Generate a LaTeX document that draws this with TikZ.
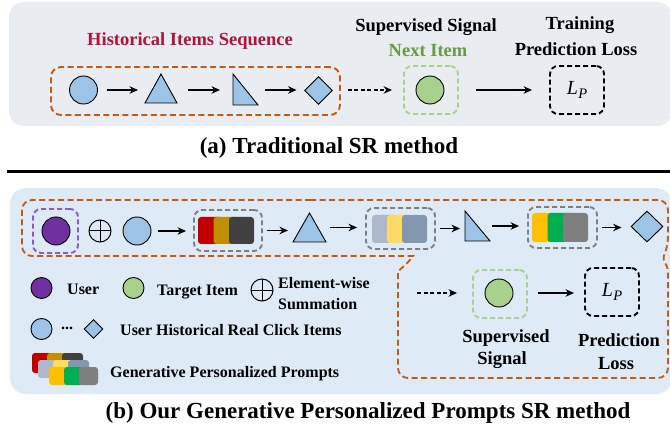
\documentclass[tikz,border=0pt]{standalone}
\usepackage{fontspec}
\setmainfont{Liberation Serif}
\usetikzlibrary{arrows.meta,shapes.geometric}

\definecolor{bgA}{HTML}{E9ECF1}
\definecolor{bgB}{HTML}{DEEAF6}
\definecolor{orangeC}{HTML}{C55A11}
\definecolor{itemblue}{HTML}{9DC3E6}
\definecolor{tgreen}{HTML}{A9D18E}
\definecolor{upurple}{HTML}{7030A0}
\definecolor{dpurple}{HTML}{8B5CC4}
\definecolor{dgray}{HTML}{7F7F7F}
\definecolor{histred}{HTML}{B3123A}
\definecolor{nextgreen}{HTML}{6A9A45}
\definecolor{pRed}{HTML}{C00000}
\definecolor{pGold}{HTML}{BF9000}
\definecolor{pDark}{HTML}{404040}
\definecolor{pSlate}{HTML}{ADB9CA}
\definecolor{pYel}{HTML}{FFD966}
\definecolor{pBlueGray}{HTML}{8497B0}
\definecolor{pAmber}{HTML}{FFC000}
\definecolor{pGreen}{HTML}{00B050}
\definecolor{pGray}{HTML}{7F7F7F}

\newcommand{\gprow}[8]{%
  \fill[#6, rounded corners=3pt] (#1,#2) rectangle ++(#3,#4);
  \fill[#7, rounded corners=3pt] ({#1+#5},#2) rectangle ++(#3,#4);
  \fill[#8, rounded corners=3pt] ({#1+2*#5},#2) rectangle ++(#3,#4);}
\newcommand{\lossLP}{{\fontsize{20}{22}\selectfont\itshape L\kern0.5pt\raisebox{-4.5pt}{\fontsize{14.5}{15}\selectfont P}}}

\begin{document}
\begin{tikzpicture}[x=1pt,y=-1pt,
  lbl/.style={font=\fontsize{18.5}{21}\selectfont\bfseries, inner sep=0, anchor=base},
  leg/.style={font=\fontsize{16}{19}\selectfont\bfseries, inner sep=0, anchor=base west},
  ttl/.style={font=\fontsize{23}{26}\selectfont\bfseries, inner sep=0, anchor=base},
  itemC/.style={circle, draw=black, line width=0.9pt, fill=itemblue, minimum size=28pt, inner sep=0},
  dia/.style={diamond, draw=black, line width=0.9pt, fill=itemblue, inner sep=0},
  bbox/.style={inner sep=0, outer sep=0},
  shp/.style={draw=black, line width=0.9pt, fill=itemblue, line join=miter},
  arr/.style={-{Stealth[length=8.5pt,width=7.5pt]}, line width=1.3pt},
  darr/.style={arr, dash pattern=on 4pt off 2.5pt},
  odash/.style={draw=orangeC, line width=1.8pt, dash pattern=on 6pt off 3.5pt},
  box/.style={inner sep=0, rounded corners=8pt, line width=1.9pt, dash pattern=on 5pt off 3pt},
  oplus/.style={circle, draw=black, line width=1pt, inner sep=0,
    path picture={\draw[line width=1pt] (path picture bounding box.north) -- (path picture bounding box.south)
      (path picture bounding box.west) -- (path picture bounding box.east);}},
]
\useasboundingbox (0,0) rectangle (670,433);

% ---------------- (a) ----------------
\fill[bgA, rounded corners=15pt] (9,2) rectangle (672,126);

\node[lbl, text=histred] (hist) at (190,46) {Historical Items Sequence};
\node[box, draw=orangeC, dash pattern=on 6pt off 3.5pt, minimum width=289pt, minimum height=48pt, rounded corners=10pt] (aseq) at (195.5,91) {};

\node[itemC] (a1) at (83.5,90) {};
\node[bbox, minimum width=32pt, minimum height=29pt] (a2) at (161,88.5) {};
\draw[shp] (a2.south west) -- (a2.north) -- (a2.south east) -- cycle;
\node[bbox, minimum width=25pt, minimum height=31pt] (a3) at (245.5,89.5) {};
\draw[shp] (a3.north west) -- (a3.south west) -- (a3.south east) -- cycle;
\node[dia, minimum width=28pt, minimum height=28pt] (a4) at (318.5,90.5) {};

\draw[arr, shorten <=9.5pt, shorten >=7pt] (a1.east) -- (a2.west |- a1.east);
\draw[arr, shorten <=11pt, shorten >=13pt] (a2.east |- a1.east) -- (a3.west |- a1.east);
\draw[arr, shorten <=7pt, shorten >=7.5pt] (a3.east |- a1.east) -- (a4.west |- a1.east);

\node[lbl] (sup) at (426,32) {Supervised Signal};
\node[lbl, text=nextgreen] (nxt) at (428,57) {Next Item};
\node[box, draw=tgreen, minimum width=54pt, minimum height=48pt] (anbox) at (431,90) {};
\node[itemC, fill=tgreen] (an) at (430,90) {};
\draw[darr, shorten <=7pt, shorten >=11pt] (aseq.east |- a1.east) -- (anbox.west |- a1.east);

\node[lbl] (trn) at (580,29.5) {Training};
\node[lbl] (ploss) at (576,56) {Prediction Loss};
\node[box, draw=black, minimum width=54pt, minimum height=48pt] (aloss) at (577,90) {\lossLP};
\draw[arr, shorten <=17pt, shorten >=17pt] (anbox.east |- a1.east) -- (aloss.west |- a1.east);

\node[ttl] (ta) at (329,154) {(a) Traditional SR method};

% rule
\coordinate (r1) at (7,171.5);
\coordinate (r2) at (672,171.5);
\draw[line width=2.6pt] (r1) -- (r2);

% ---------------- (b) ----------------
\fill[bgB, rounded corners=16pt] (10,188) rectangle (672,394);

% orange outline
\draw[odash, rounded corners=10pt] (300,200) -- (668,200) -- (668,247)
  [rounded corners=2pt] -- (663,258) -- (668,269)
  [rounded corners=10pt] -- (668,378) -- (398,378) -- (398,282)
  [sharp corners] to[out=90,in=235] (413,256)
  [rounded corners=10pt] -- (22,256) -- (22,200) -- cycle;

% top row
\node[box, draw=dpurple, minimum width=45pt, minimum height=44pt] (ubox) at (55.5,231) {};
\node[itemC, fill=upurple] (bu) at (56,231) {};
\node[oplus, minimum size=22pt] (bplus) at (100,231) {};
\node[itemC] (b1) at (137,231) {};

\node[box, draw=dgray, minimum width=68pt, minimum height=41pt] (g1) at (228,230.5) {};
\gprow{198}{217}{25}{27}{15.5}{pRed}{pGold}{pDark}
\node[bbox, minimum width=33pt, minimum height=29pt] (b2) at (309.5,227.5) {};
\draw[shp] (b2.south west) -- (b2.north) -- (b2.south east) -- cycle;

\node[box, draw=dgray, minimum width=69pt, minimum height=41pt] (g2) at (400.5,228.5) {};
\gprow{372}{215}{25}{28}{15}{pSlate}{pYel}{pBlueGray}
\node[bbox, minimum width=25pt, minimum height=30pt] (b3) at (477.5,226) {};
\draw[shp] (b3.north west) -- (b3.south west) -- (b3.south east) -- cycle;

\node[box, draw=dgray, minimum width=69pt, minimum height=41pt] (g3) at (562.5,227.5) {};
\gprow{532}{213}{25}{29}{15.5}{pAmber}{pGreen}{pGray}
\node[dia, minimum width=32pt, minimum height=31pt] (b4) at (647,226.5) {};

\draw[arr, shorten <=7pt, shorten >=7pt] (b1.east) -- (g1.west |- b1.east);
\draw[arr, shorten <=4pt, shorten >=5pt] (g1.east) -- (b2.west |- g1.east);
\draw[arr, shorten <=4pt, shorten >=8pt] (b2.east) -- (g2.west |- b2.east);
\draw[arr, shorten <=4pt, shorten >=5pt] (g2.east) -- (b3.west |- g2.east);
\draw[arr, shorten <=2pt, shorten >=8pt] (b3.east) -- (g3.west |- b3.east);
\draw[arr, shorten <=4pt, shorten >=9pt] (g3.east) -- (b4.west |- g3.east);

% lower right
\coordinate (dstart) at (417,293);
\node[box, draw=tgreen, minimum width=54pt, minimum height=48pt] (gbox2) at (500,294) {};
\node[itemC, fill=tgreen] (bt) at (499,293) {};
\draw[darr, shorten >=15pt] (dstart) -- (gbox2.west |- dstart);
\node[box, draw=black, minimum width=54pt, minimum height=48pt] (lbox2) at (612,292) {\lossLP};
\draw[arr, shorten <=10pt, shorten >=10pt] (gbox2.east |- bt.east) -- (lbox2.west |- bt.east);
\node[lbl] (sup1) at (506,342) {Supervised};
\node[lbl] (sup2) at (502,364) {Signal};
\node[lbl] (pl1) at (619,346) {Prediction};
\node[lbl] (pl2) at (616,369) {Loss};

% legend
\node[circle, draw=black, line width=0.9pt, fill=upurple, minimum size=21pt, inner sep=0] (lu) at (41.5,288) {};
\node[leg] (tu) at (67,294) {User};
\node[circle, draw=black, line width=0.9pt, fill=tgreen, minimum size=21pt, inner sep=0] (lt) at (133.5,288) {};
\node[leg] (tt) at (157,295) {Target Item};
\node[oplus, minimum size=22pt] (lplus) at (262,290) {};
\node[leg] (te1) at (278,288) {Element-wise};
\node[leg] (te2) at (278,309) {Summation};
\node[circle, draw=black, line width=0.9pt, fill=itemblue, minimum size=21pt, inner sep=0] (lb) at (41.5,329) {};
\node[leg] (dots) at (61,329) {...};
\node[dia, minimum width=19pt, minimum height=19pt] (ld) at (93.5,329) {};
\node[leg] (th) at (120,335) {User Historical Real Click Items};
\gprow{32}{353}{21}{20}{15}{pRed}{pGold}{pDark}
\gprow{38}{360}{21}{18}{15}{pSlate}{pYel}{pBlueGray}
\gprow{49}{367}{19}{18}{15}{pAmber}{pGreen}{pGray}
\node[leg] (tg) at (110,377) {Generative Personalized Prompts};

\node[ttl] (tb) at (368,418) {(b) Our Generative Personalized Prompts SR method};
\end{tikzpicture}
\end{document}
